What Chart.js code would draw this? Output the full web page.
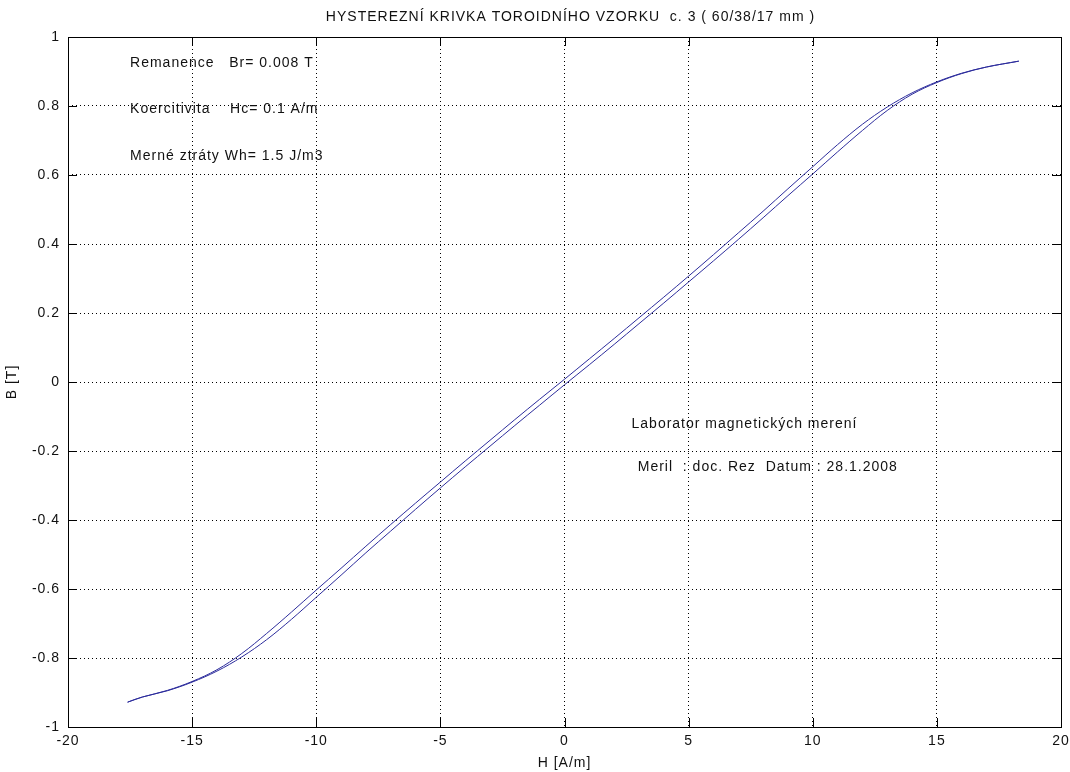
<!DOCTYPE html>
<html>
<head>
<meta charset="utf-8">
<script src="https://cdn.jsdelivr.net/npm/chart.js@4.4.1/dist/chart.umd.min.js"></script>
<style>
  html, body { margin: 0; padding: 0; background: #fff; }
  #wrap { width: 1070px; height: 772px; }
</style>
</head>
<body>
<div id="wrap"><canvas id="chart" width="1070" height="772"></canvas></div>
<script>
// H [A/m] and B [T]
const hDown = [18.3, 17, 16, 15, 14, 13, 12, 11, 10, 9, 8, 7, 6, 5, 4, 3, 2, 1, 0,
  -1, -2, -3, -4, -5, -6, -7, -8, -9, -10, -11, -12, -13, -14, -15, -16, -17, -17.6];
const bDown = [0.930, 0.913, 0.895, 0.870, 0.838, 0.797, 0.747, 0.688, 0.624, 0.560, 0.495, 0.432, 0.369, 0.307, 0.246, 0.186, 0.126, 0.067, 0.008,
  -0.050, -0.109, -0.169, -0.229, -0.290, -0.351, -0.413, -0.476, -0.540, -0.603, -0.667, -0.729, -0.787, -0.834, -0.868, -0.894, -0.913, -0.928];

const hUp = [-17.6, -17, -16, -15, -14, -13, -12, -11, -10, -9, -8, -7, -6, -5, -4, -3, -2, -1, 0,
  1, 2, 3, 4, 5, 6, 7, 8, 9, 10, 11, 12, 13, 14, 15, 16, 17, 18.3];
const bUp = [-0.928, -0.913, -0.895, -0.870, -0.838, -0.797, -0.747, -0.688, -0.624, -0.560, -0.495, -0.432, -0.369, -0.307, -0.246, -0.186, -0.126, -0.067, -0.008,
  0.050, 0.109, 0.169, 0.229, 0.290, 0.351, 0.413, 0.476, 0.540, 0.603, 0.667, 0.729, 0.787, 0.834, 0.868, 0.894, 0.913, 0.930];

const xTicks = [-20, -15, -10, -5, 0, 5, 10, 15, 20];
const yTicks = [-1, -0.8, -0.6, -0.4, -0.2, 0, 0.2, 0.4, 0.6, 0.8, 1];

const titleText = "HYSTEREZNÍ KRIVKA TOROIDNÍHO VZORKU  c. 3 ( 60/38/17 mm )";

// notes written inside the axes: [H, B, text]
const notes = [
  [-17.5, 0.925, "Remanence   Br= 0.008 T"],
  [-17.5, 0.79, "Koercitivita    Hc= 0.1 A/m"],
  [-17.5, 0.655, "Merné ztráty Wh= 1.5 J/m3"],
  [2.7, -0.122, "Laborator magnetických merení"],
  [2.95, -0.246, "Meril  : doc. Rez  Datum : 28.1.2008"]
];

const FONT = "'Liberation Sans', Arial, sans-serif";
const FS = 14;
const SPACING = "1px";
const lineColor = "#2c2c9c";

const toPoints = (xs, ys) => xs.map((x, i) => ({ x: x, y: ys[i] }));

// a bit of letter spacing, like the old MATLAB screen font
const spacingPlugin = {
  id: "spacing",
  beforeInit(chart) { chart.ctx.letterSpacing = SPACING; },
  beforeDraw(chart) { chart.ctx.letterSpacing = SPACING; }
};

// box round the axes, inward ticks, title over the axes, and the notes
const boxPlugin = {
  id: "box",
  afterDraw(chart) {
    const { ctx, chartArea: a, scales } = chart;
    ctx.save();
    ctx.strokeStyle = "#000";
    ctx.lineWidth = 1;
    ctx.strokeRect(a.left + 0.5, a.top + 0.5, a.right - a.left, a.bottom - a.top);
    ctx.beginPath();
    xTicks.forEach(v => {
      const px = Math.round(scales.x.getPixelForValue(v)) + 0.5;
      ctx.moveTo(px, a.bottom); ctx.lineTo(px, a.bottom - 9);
      ctx.moveTo(px, a.top); ctx.lineTo(px, a.top + 9);
    });
    yTicks.forEach(v => {
      const py = Math.round(scales.y.getPixelForValue(v)) + 0.5;
      ctx.moveTo(a.left, py); ctx.lineTo(a.left + 9, py);
      ctx.moveTo(a.right, py); ctx.lineTo(a.right - 9, py);
    });
    ctx.stroke();

    ctx.fillStyle = "#111";
    ctx.letterSpacing = SPACING;
    ctx.font = FS + "px " + FONT;
    ctx.textBaseline = "middle";
    ctx.textAlign = "center";
    ctx.fillText(titleText, (a.left + a.right) / 2 + 6, 17);
    ctx.textAlign = "left";
    notes.forEach(n => {
      ctx.fillText(n[2], scales.x.getPixelForValue(n[0]), scales.y.getPixelForValue(n[1]));
    });
    ctx.restore();
  }
};

const ctx = document.getElementById("chart").getContext("2d");
new Chart(ctx, {
  type: "scatter",
  data: {
    datasets: [
      { data: toPoints(hDown, bDown), showLine: true, borderColor: lineColor, borderWidth: 1, pointRadius: 0, tension: 0.35 },
      { data: toPoints(hUp, bUp), showLine: true, borderColor: lineColor, borderWidth: 1, pointRadius: 0, tension: 0.35 }
    ]
  },
  options: {
    responsive: false,
    animation: false,
    devicePixelRatio: 1,
    layout: { padding: { left: 4, right: 9, top: 37, bottom: 0 } },
    plugins: {
      legend: { display: false },
      tooltip: { enabled: false },
      title: { display: false }
    },
    scales: {
      x: {
        type: "linear",
        min: -20, max: 20,
        afterBuildTicks: s => { s.ticks = xTicks.map(v => ({ value: v })); },
        afterFit: s => { s.height = 45; s.paddingLeft = 0; s.paddingRight = 0; },
        ticks: { color: "#111", font: { family: FONT, size: FS }, padding: 6, maxRotation: 0 },
        grid: { color: "#000", lineWidth: 1, drawTicks: false },
        border: { display: false, dash: [1, 3] },
        title: { display: true, text: "H [A/m]", color: "#111", font: { family: FONT, size: FS }, padding: { top: 0, bottom: 0 } }
      },
      y: {
        type: "linear",
        min: -1, max: 1,
        afterBuildTicks: s => { s.ticks = yTicks.map(v => ({ value: v })); },
        afterFit: s => { s.width = 64; s.paddingTop = 0; s.paddingBottom = 0; },
        ticks: { color: "#111", font: { family: FONT, size: FS }, padding: 8, callback: v => String(v) },
        grid: { color: "#000", lineWidth: 1, drawTicks: false },
        border: { display: false, dash: [1, 3] },
        title: { display: true, text: "B [T]", color: "#111", font: { family: FONT, size: FS }, padding: { top: 0, bottom: 0 } }
      }
    }
  },
  plugins: [spacingPlugin, boxPlugin]
});
</script>
</body>
</html>
